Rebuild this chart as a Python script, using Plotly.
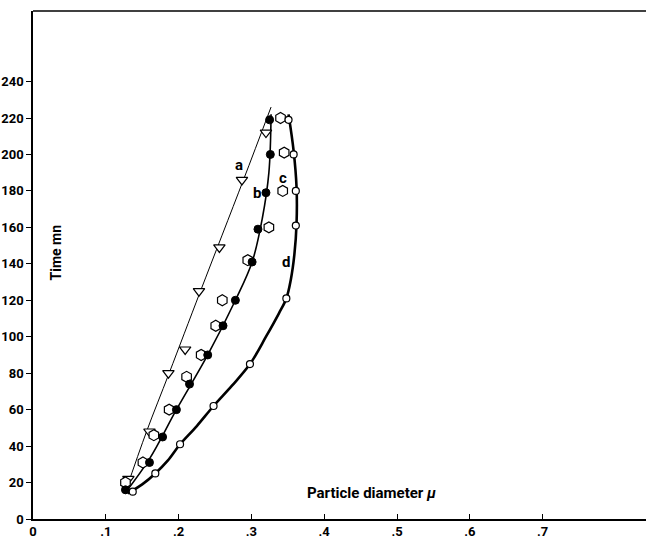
import plotly.graph_objects as go

# --- data ---
a_x = [0.131, 0.160, 0.186, 0.209, 0.228, 0.256, 0.287, 0.320]
a_y = [22, 48, 80, 93, 125, 149, 186, 212]

b_x = [0.127, 0.160, 0.178, 0.197, 0.215, 0.240, 0.261, 0.278, 0.301, 0.309, 0.320, 0.326, 0.325]
b_y = [16, 31, 45, 60, 74, 90, 106, 120, 141, 159, 179, 200, 219]

c_x = [0.127, 0.151, 0.166, 0.187, 0.211, 0.231, 0.251, 0.260, 0.295, 0.324, 0.343, 0.345, 0.340]
c_y = [20, 31, 46, 60, 78, 90, 106, 120, 142, 160, 180, 201, 220]

d_x = [0.137, 0.168, 0.202, 0.248, 0.298, 0.348, 0.361, 0.361, 0.358, 0.351]
d_y = [15, 25, 41, 62, 85, 121, 161, 180, 200, 219]

# hand-drawn fitted curves
curve_a_x = [0.127, 0.156, 0.187, 0.230, 0.289, 0.327]
curve_a_y = [15, 48, 80, 125, 186, 226]
curve_b_x = [0.126, 0.160, 0.197, 0.240, 0.278, 0.301, 0.315, 0.324, 0.327]
curve_b_y = [14, 33, 60, 90, 120, 141, 165, 190, 222]
curve_d_x = [0.130, 0.150, 0.168, 0.185, 0.202, 0.225, 0.248, 0.273, 0.298, 0.320,
             0.338, 0.348, 0.354, 0.359, 0.362, 0.362, 0.358, 0.351]
curve_d_y = [14, 19, 25, 32, 41, 51, 62, 73, 85, 100,
             113, 121, 131, 145, 162, 182, 202, 222]

x_ticks = [0, 0.1, 0.2, 0.3, 0.4, 0.5, 0.6, 0.7]
x_tick_text = ["0", ".1", ".2", ".3", ".4", ".5", ".6", ".7"]
y_ticks = [0, 20, 40, 60, 80, 100, 120, 140, 160, 180, 200, 220, 240]

FONT = "Liberation Sans Narrow, Roboto, sans-serif"

fig = go.Figure()
fig.add_trace(go.Scatter(x=curve_a_x, y=curve_a_y, mode="lines",
                         line=dict(color="black", width=1, shape="spline", smoothing=1.0),
                         hoverinfo="skip", showlegend=False))
fig.add_trace(go.Scatter(x=curve_b_x, y=curve_b_y, mode="lines",
                         line=dict(color="black", width=1.6, shape="spline", smoothing=1.0),
                         hoverinfo="skip", showlegend=False))
fig.add_trace(go.Scatter(x=curve_d_x, y=curve_d_y, mode="lines",
                         line=dict(color="black", width=2.6, shape="spline", smoothing=1.0),
                         hoverinfo="skip", showlegend=False))

fig.add_trace(go.Scatter(x=a_x, y=a_y, mode="markers", name="a",
                         marker=dict(symbol="triangle-down", size=10, color="white",
                                     line=dict(color="black", width=1.2))))
fig.add_trace(go.Scatter(x=c_x, y=c_y, mode="markers", name="c",
                         marker=dict(symbol="hexagon", size=11, color="white",
                                     line=dict(color="black", width=1.2))))
fig.add_trace(go.Scatter(x=b_x, y=b_y, mode="markers", name="b",
                         marker=dict(symbol="circle", size=8, color="black",
                                     line=dict(color="black", width=1))))
fig.add_trace(go.Scatter(x=d_x, y=d_y, mode="markers", name="d",
                         marker=dict(symbol="circle", size=7, color="white",
                                     line=dict(color="black", width=1.2))))

labels = [("a", 0.283, 194), ("b", 0.307, 179), ("c", 0.343, 187), ("d", 0.348, 141)]
for t, lx, ly in labels:
    fig.add_annotation(x=lx, y=ly, text=t, showarrow=False,
                       font=dict(family=FONT, size=15, color="black", weight="bold"))

fig.add_annotation(x=0.031, y=146, text="Time mn", textangle=-90, showarrow=False,
                   font=dict(family=FONT, size=14, color="black", weight="bold"))
fig.add_annotation(x=0.373, y=14, xanchor="left", text="Particle diameter <i>µ</i>",
                   showarrow=False, font=dict(family=FONT, size=15, color="black", weight="bold"))

fig.add_shape(type="line", xref="paper", yref="paper", x0=0, x1=1, y0=1, y1=1,
              line=dict(color="black", width=1.5))

fig.update_layout(
    width=646, height=540,
    margin=dict(l=33, r=0, t=11, b=21),
    plot_bgcolor="white", paper_bgcolor="white",
    showlegend=False,
    xaxis=dict(range=[0, 0.842], tickvals=x_ticks, ticktext=x_tick_text,
               showgrid=False, zeroline=False, showline=True, linecolor="black", linewidth=1.5,
               ticks="inside", ticklen=5, tickcolor="black", automargin=False,
               tickfont=dict(family=FONT, size=13, color="black", weight="bold")),
    yaxis=dict(range=[0, 278.7], tickvals=y_ticks,
               showgrid=False, zeroline=False, showline=True, linecolor="black", linewidth=1.5,
               ticks="outside", ticklen=5, tickcolor="black", automargin=False,
               tickfont=dict(family=FONT, size=13, color="black", weight="bold")),
)

fig.write_html("out.html")
